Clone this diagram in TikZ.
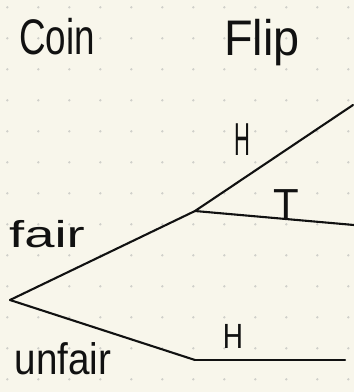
\documentclass[tikz,border=0pt]{standalone}
\usepackage{fontspec}
\usepackage{graphicx}
\setmainfont{Liberation Sans}
\definecolor{paper}{HTML}{F8F6EB}
\definecolor{griddot}{HTML}{D0D0CA}
\definecolor{ink}{HTML}{111111}
\tikzset{
  branch/.style={draw=ink, line width=2.1pt, line cap=round, line join=round},
  hand/.style={anchor=base, inner sep=0pt, text=ink},
}
\begin{document}
\begin{tikzpicture}[x=1pt,y=-1pt]
\fill[paper] (0,0) rectangle (354,392);
\useasboundingbox (0,0) rectangle (354,392);
\foreach \i in {0,...,11}{
  \foreach \j in {0,...,12}{
    \fill[griddot] ({7.3+31*\i},{7.3+31*\j}) circle (1.3pt);
  }
}
% tree points
\coordinate (root) at (10,300);
\coordinate (fair) at (195,211);
\coordinate (fairH) at (353,105);
\coordinate (fairT) at (354,225);
\coordinate (unfair) at (195,360);
\coordinate (unfairH) at (345,360);
% branches
\draw[branch] (root) -- (fair);
\draw[branch] (root) -- (unfair);
\draw[branch] (fair) -- (fairH);
\draw[branch] (fair) -- (fairT);
\draw[branch] (unfair) -- (unfairH);
% labels
\node[hand, font=\fontsize{40}{40}\selectfont] (coin) at (57,54) {\scalebox{0.92}[1.25]{Coin}};
\node[hand, font=\fontsize{40}{40}\selectfont] (flip) at (262,55) {\scalebox{1.17}[1.25]{Flip}};
\node[hand, font=\fontsize{34}{34}\selectfont] (fairlab) at (47,247) {\scalebox{1.6}[1.1]{fair}};
\node[hand, font=\fontsize{42}{42}\selectfont] (unfairlab) at (63,374) {\scalebox{0.92}[1.05]{unfair}};
\node[hand, font=\fontsize{44}{44}\selectfont] (hup) at (242,155) {\scalebox{0.5}[1.05]{H}};
\node[hand, font=\fontsize{42}{42}\selectfont] (tlab) at (286,218) {T};
\node[hand, font=\fontsize{35}{35}\selectfont] (hlow) at (233,348) {\scalebox{0.8}[1]{H}};
\end{tikzpicture}
\end{document}
